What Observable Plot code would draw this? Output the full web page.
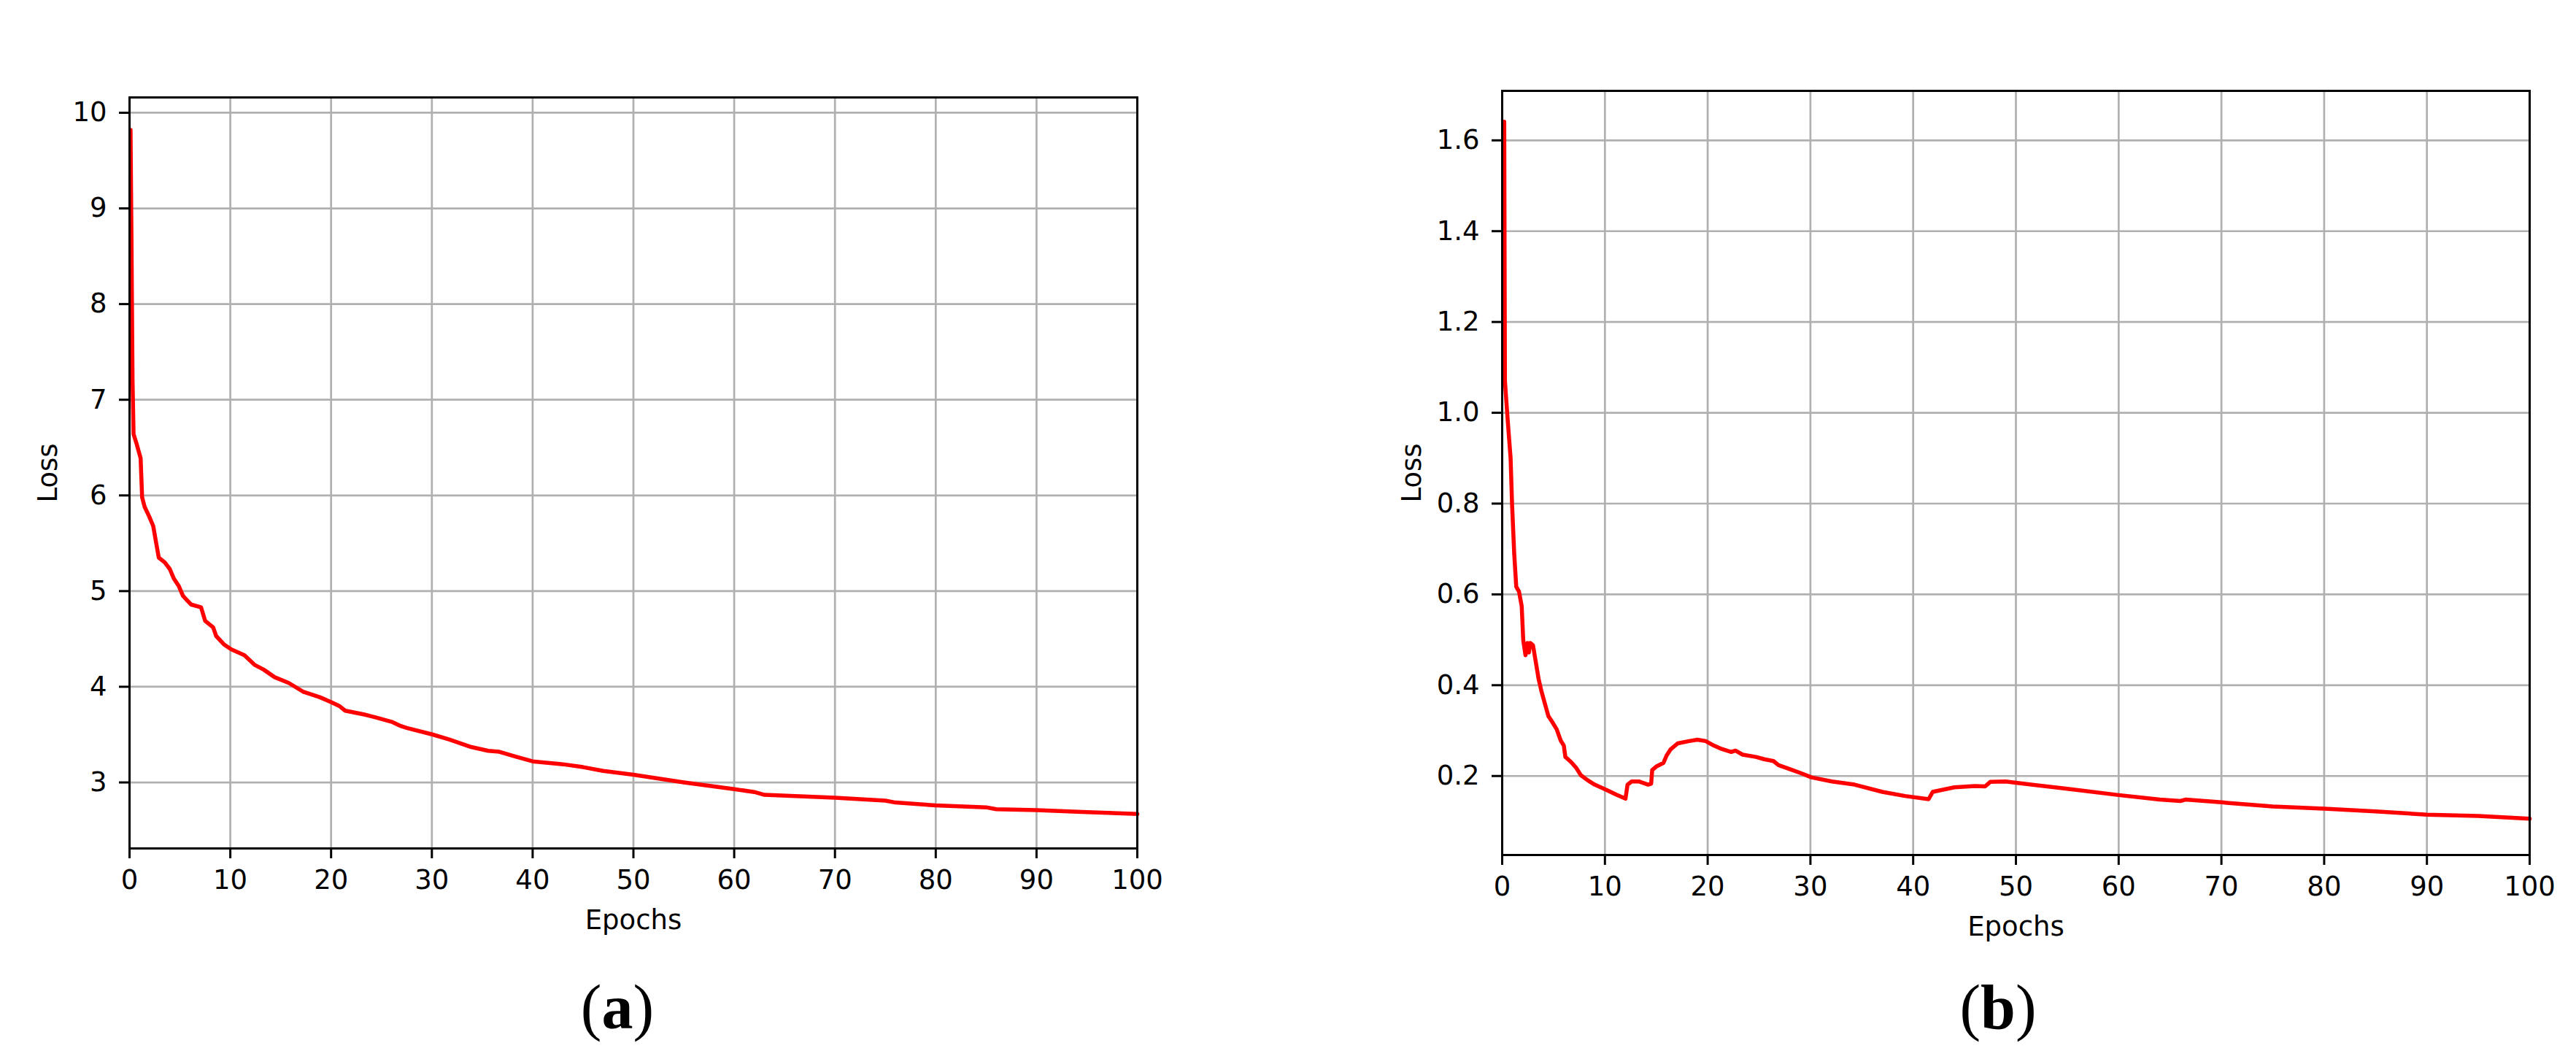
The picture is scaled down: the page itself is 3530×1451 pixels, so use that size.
<!DOCTYPE html>
<html>
<head>
<meta charset="utf-8">
<script src="https://cdn.jsdelivr.net/npm/d3@7"></script>
<script src="https://cdn.jsdelivr.net/npm/@observablehq/plot@0.6"></script>
<style>
html,body{margin:0;padding:0;background:#fff;}
#wrap{position:relative;width:3530px;height:1451px;overflow:hidden;background:#fff;}
.panel{position:absolute;top:0;}
.cap{position:absolute;font-family:"Liberation Serif","Times New Roman",serif;font-size:86px;line-height:86px;color:#000;transform:translateX(-50%);white-space:nowrap;}
</style>
</head>
<body>
<div id="wrap">
  <div class="panel" id="pa" style="left:0px"></div>
  <div class="panel" id="pb" style="left:1765px"></div>
  <div class="cap" style="left:846px;top:1337px">(<b>a</b>)</div>
  <div class="cap" style="left:2738px;top:1337px">(<b>b</b>)</div>
</div>
<script>
// ---- data ----
const xTicks = [0, 10, 20, 30, 40, 50, 60, 70, 80, 90, 100];

const epochsA = [0.1, 0.2, 0.3, 0.4, 0.7, 1.1, 1.25, 1.5, 1.95, 2.35, 2.6, 2.9, 3.5, 4.0, 4.4, 4.9, 5.3, 6.1, 7.1, 7.5, 8.3, 8.6, 9.4, 10.1, 11.4, 12.4, 13.3, 14.4, 15.8, 17.2, 18.9, 20, 20.8, 21.4, 23.3, 24.4, 26.1, 26.9, 27.5, 30.1, 31.7, 33.9, 35.6, 36.7, 38.3, 40, 43, 45, 47, 50, 55, 60, 62, 63, 70, 75, 76, 80, 85, 86, 90, 95, 100];
const lossA = [9.82, 8.6, 7.2, 6.64, 6.54, 6.39, 5.98, 5.88, 5.78, 5.68, 5.53, 5.35, 5.30, 5.23, 5.13, 5.05, 4.95, 4.86, 4.83, 4.69, 4.62, 4.53, 4.44, 4.39, 4.33, 4.23, 4.18, 4.10, 4.04, 3.95, 3.89, 3.84, 3.80, 3.75, 3.71, 3.68, 3.63, 3.59, 3.57, 3.50, 3.45, 3.37, 3.33, 3.32, 3.27, 3.22, 3.19, 3.16, 3.12, 3.08, 3.00, 2.93, 2.90, 2.87, 2.84, 2.81, 2.79, 2.76, 2.74, 2.72, 2.71, 2.69, 2.67];
const yTicksA = [3, 4, 5, 6, 7, 8, 9, 10];

const epochsB = [0.2, 0.27, 0.36, 0.55, 0.82, 0.96, 1.17, 1.37, 1.64, 1.9, 2.05, 2.27, 2.46, 2.6, 2.73, 3.0, 3.28, 3.55, 3.83, 4.1, 4.5, 4.9, 5.3, 5.7, 6.0, 6.15, 6.7, 7.2, 7.65, 8.3, 9.0, 10.1, 11.1, 12.0, 12.2, 12.6, 13.3, 14.2, 14.5, 14.6, 15.0, 15.7, 16.0, 16.4, 17.1, 18.2, 19.0, 19.8, 20.6, 21.2, 22.3, 22.7, 23.4, 24.7, 25.5, 26.4, 26.9, 28.0, 29.1, 30.1, 32.1, 34.3, 37.0, 39.2, 41.5, 41.9, 44, 46, 47, 47.5, 49, 50, 55, 60, 64, 66, 66.5, 70, 75, 80, 85, 90, 95, 100];
const lossB = [1.641, 1.07, 1.04, 0.98, 0.90, 0.80, 0.69, 0.617, 0.606, 0.574, 0.499, 0.466, 0.493, 0.472, 0.493, 0.488, 0.45, 0.413, 0.386, 0.364, 0.332, 0.318, 0.303, 0.278, 0.267, 0.242, 0.231, 0.218, 0.202, 0.191, 0.181, 0.170, 0.159, 0.150, 0.181, 0.188, 0.188, 0.181, 0.183, 0.213, 0.221, 0.229, 0.245, 0.259, 0.272, 0.277, 0.280, 0.277, 0.267, 0.261, 0.253, 0.256, 0.247, 0.242, 0.237, 0.233, 0.224, 0.215, 0.206, 0.197, 0.188, 0.181, 0.165, 0.156, 0.149, 0.165, 0.175, 0.178, 0.177, 0.187, 0.188, 0.185, 0.172, 0.158, 0.148, 0.145, 0.148, 0.142, 0.133, 0.128, 0.122, 0.115, 0.112, 0.106];
const yTicksB = [0.2, 0.4, 0.6, 0.8, 1.0, 1.2, 1.4, 1.6];

const xLabel = "Epochs";
const yLabel = "Loss";

function panel(o) {
  const data = o.epochs.map((e, i) => ({epoch: e, loss: o.loss[i]}));
  return Plot.plot({
    width: o.width,
    height: o.height,
    marginTop: o.mt,
    marginBottom: o.mb,
    marginLeft: o.ml,
    marginRight: o.mr,
    style: {fontFamily: "'DejaVu Sans', sans-serif", fontSize: "37px", color: "#000", background: "#fff", overflow: "visible"},
    x: {domain: [0, 100]},
    y: {domain: o.yDomain},
    marks: [
      Plot.gridX(xTicks, {stroke: "#b0b0b0", strokeOpacity: 1, strokeWidth: 2.7}),
      Plot.gridY(o.yTicks, {stroke: "#b0b0b0", strokeOpacity: 1, strokeWidth: 2.7}),
      Plot.line(data, {x: "epoch", y: "loss", stroke: "#ff0000", strokeWidth: 5.5, strokeLinejoin: "round"}),
      Plot.frame({stroke: "#000", strokeWidth: 3}),
      Plot.axisX({ticks: xTicks, tickSize: 14, tickPadding: 15, strokeWidth: 3, stroke: "#000",
        label: xLabel, labelAnchor: "center", labelArrow: "none", labelOffset: 110}),
      Plot.axisY({ticks: o.yTicks, tickSize: 14, tickPadding: 17, strokeWidth: 3, stroke: "#000",
        tickFormat: o.fmt, label: yLabel, labelAnchor: "center", labelArrow: "none", labelOffset: o.ylo})
    ]
  });
}

document.getElementById("pa").appendChild(panel({
  epochs: epochsA, loss: lossA, yTicks: yTicksA, yDomain: [2.31, 10.16], fmt: d3.format("d"),
  width: 1765, height: 1320, mt: 133, mb: 158, ml: 177, mr: 207, ylo: 126
}));
document.getElementById("pb").appendChild(panel({
  epochs: epochsB, loss: lossB, yTicks: yTicksB, yDomain: [0.026, 1.709], fmt: d3.format(".1f"),
  width: 1765, height: 1320, mt: 124, mb: 149, ml: 293, mr: 64, ylo: 138
}));
</script>
</body>
</html>
